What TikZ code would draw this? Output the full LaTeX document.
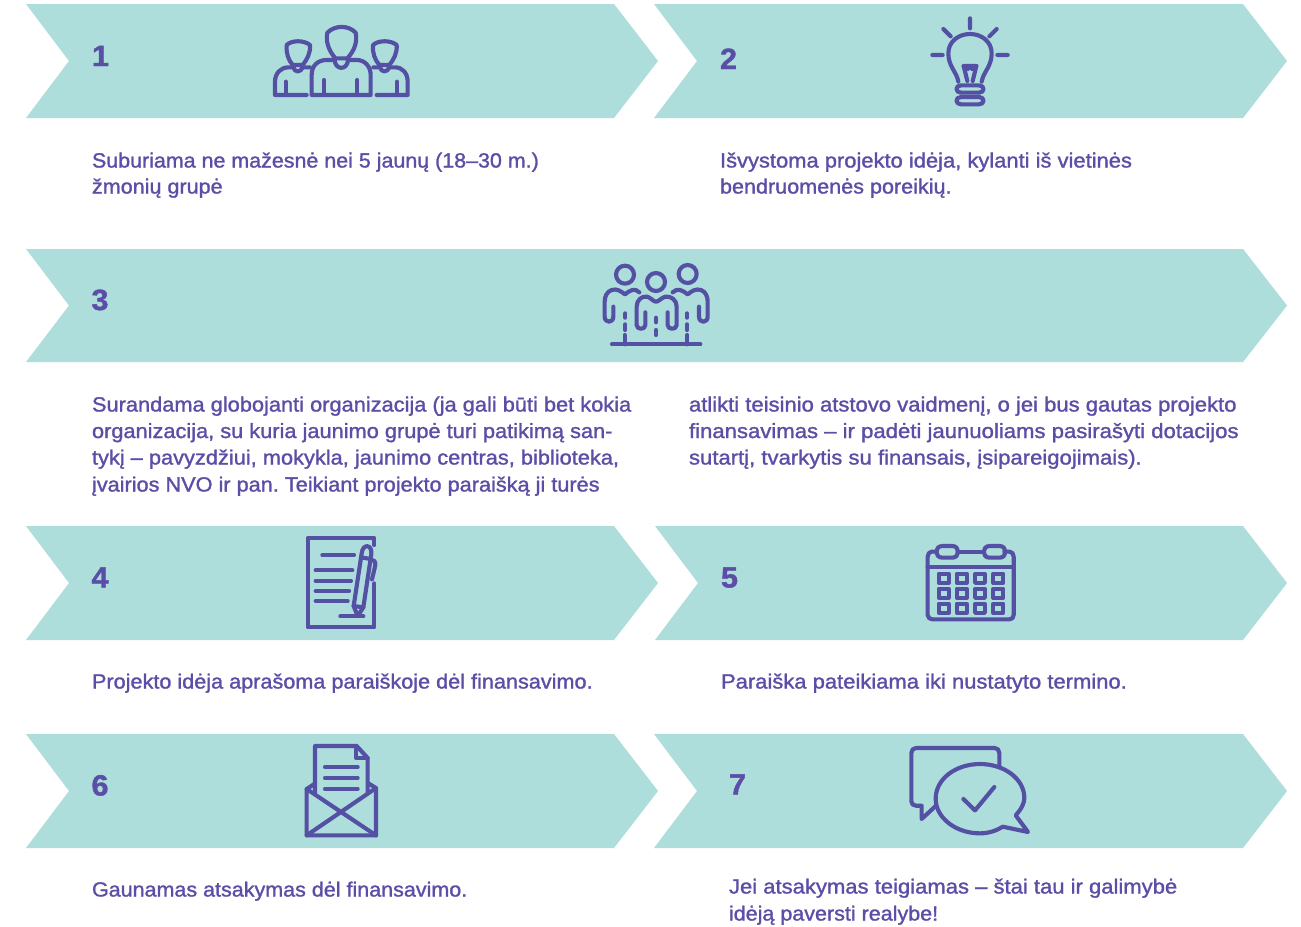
\documentclass[tikz,border=0pt]{standalone}
\usepackage{fontspec}
\setmainfont{Liberation Sans}[FakeBold=1.3,FakeStretch=1.042]
\frenchspacing
\definecolor{teal1}{HTML}{ADDEDB}
\definecolor{purp}{HTML}{5450A4}
\definecolor{txt}{HTML}{5B4EA6}
\newcommand{\sx}[2]{\scalebox{#1}[1]{#2}}
\tikzset{
 x=0.75pt,y=-0.75pt,
 band/.style={fill=teal1,draw=none},
 ln/.style={anchor=base west,inner sep=0,outer sep=0,text=txt,font=\fontsize{15.4pt}{18pt}\selectfont},
 num/.style={anchor=base west,inner sep=0,outer sep=0,text=txt,font=\fontsize{22pt}{24pt}\selectfont\bfseries},
 ic/.style={draw=purp,line width=3.1pt,line cap=round,line join=round},
 ict/.style={draw=purp,line width=2.8pt,line cap=round,line join=round},
}
\begin{document}
\begin{tikzpicture}
\useasboundingbox (0,0) rectangle (1301,926);
\fill[white] (0,0) rectangle (1301,926);
% bands
\fill[band] (26,4)--(614,4)--(658,61)--(614,118)--(26,118)--(69,61)--cycle;
\fill[band] (654,4)--(1243,4)--(1287,61)--(1243,118)--(654,118)--(697,61)--cycle;
\fill[band] (26,249)--(1243,249)--(1287,305.5)--(1243,362)--(26,362)--(69,305.5)--cycle;
\fill[band] (26,526)--(614,526)--(658,583)--(614,640)--(26,640)--(69,583)--cycle;
\fill[band] (655,526)--(1243,526)--(1287,583)--(1243,640)--(655,640)--(698,583)--cycle;
\fill[band] (26,734)--(614,734)--(658,791)--(614,848)--(26,848)--(69,791)--cycle;
\fill[band] (654,734)--(1243,734)--(1287,791)--(1243,848)--(654,848)--(697,791)--cycle;
% numbers
\node[num] (n1) at (92,66) {1};
\node[num] (n2) at (720,69) {2};
\node[num] (n3) at (91.5,310) {3};
\node[num] (n4) at (91.5,587.5) {4};
\node[num] (n5) at (721,587.5) {5};
\node[num] (n6) at (91.5,795.5) {6};
\node[num] (n7) at (729,794.5) {7};
% text
\node[ln] (t1a) at (92,167.5) {\sx{1.002}{Suburiama ne mažesnė nei 5 jaunų (18–30 m.)}};
\node[ln] (t1b) at (92,193.5) {\sx{1.008}{žmonių grupė}};
\node[ln] (t2a) at (720,167.5) {\sx{1.025}{Išvystoma projekto idėja, kylanti iš vietinės}};
\node[ln] (t2b) at (720,193.5) {\sx{1.009}{bendruomenės poreikių.}};
\node[ln] (t3a) at (92,411.5) {\sx{1.019}{Surandama globojanti organizacija (ja gali būti bet kokia}};
\node[ln] (t3b) at (92,438) {\sx{1.018}{organizacija, su kuria jaunimo grupė turi patikimą san-}};
\node[ln] (t3c) at (92,464.5) {\sx{1.019}{tykį – pavyzdžiui, mokykla, jaunimo centras, biblioteka,}};
\node[ln] (t3d) at (92,491.5) {\sx{1.014}{įvairios NVO ir pan. Teikiant projekto paraišką ji turės}};
\node[ln] (t3e) at (689,411.5) {\sx{1.030}{atlikti teisinio atstovo vaidmenį, o jei bus gautas projekto}};
\node[ln] (t3f) at (689,438) {\sx{1.034}{finansavimas – ir padėti jaunuoliams pasirašyti dotacijos}};
\node[ln] (t3g) at (689,464.5) {\sx{1.032}{sutartį, tvarkytis su finansais, įsipareigojimais).}};
\node[ln] (t4) at (92,688.5) {\sx{1.012}{Projekto idėja aprašoma paraiškoje dėl finansavimo.}};
\node[ln] (t5) at (721,688.5) {\sx{1.028}{Paraiška pateikiama iki nustatyto termino.}};
\node[ln] (t6) at (92,896.5) {\sx{1.005}{Gaunamas atsakymas dėl finansavimo.}};
\node[ln] (t7a) at (729,893.5) {\sx{1.030}{Jei atsakymas teigiamas – štai tau ir galimybė}};
\node[ln] (t7b) at (729,920.5) {\sx{1.005}{idėją paversti realybe!}};
% icon 1
\begin{scope}[shift={(260,10)},x=0.25pt,y=-0.25pt]
\draw[ic] (202,68) .. controls (225,45) and (265,45) .. (287,68) .. controls (292,95) and (285,120) .. (262,145) -- (226,145) .. controls (205,120) and (197,95) .. (202,68) -- cycle;
\draw[ic] (224,148) .. controls (224,182) and (264,182) .. (264,148);
\draw[ic] (224,150) -- (200,150) .. controls (175,150) and (155,165) .. (155,195) -- (155,255) -- (332,255) -- (332,195) .. controls (332,170) and (315,150) .. (290,150) -- (264,150);
\draw[ic] (192,210)--(192,255) (292,210)--(292,255);
\draw[ic] (80,105) .. controls (95,90) and (132,90) .. (150,105) .. controls (152,130) and (140,150) .. (128,165) -- (98,165) .. controls (85,150) and (78,130) .. (80,105) -- cycle;
\draw[ic] (100,172) .. controls (103,188) and (123,188) .. (128,172);
\draw[ic] (150,172) -- (128,172) (98,172) -- (85,172) .. controls (62,172) and (45,190) .. (45,215) -- (45,255) -- (140,255);
\draw[ic] (77,215)--(77,255);
\draw[ic] (339,105) .. controls (355,90) and (392,90) .. (410,105) .. controls (412,130) and (400,150) .. (388,165) -- (358,165) .. controls (345,150) and (337,130) .. (339,105) -- cycle;
\draw[ic] (360,172) .. controls (363,188) and (383,188) .. (388,172);
\draw[ic] (340,172) -- (360,172) (388,172) -- (405,172) .. controls (428,172) and (443,190) .. (443,215) -- (443,255) -- (350,255);
\draw[ic] (411,215)--(411,255);
\end{scope}
% icon 2
\begin{scope}[shift={(915,10)},x=0.25pt,y=-0.25pt]
\draw[ic] (165,25)--(165,55) (85,57)--(107,79) (245,57)--(223,79) (52,135)--(83,135) (247,135)--(278,135);
\draw[ic] (130,215) .. controls (125,185) and (100,170) .. (100,130) .. controls (100,95) and (130,72) .. (165,72) .. controls (200,72) and (230,95) .. (230,130) .. controls (230,170) and (205,185) .. (200,215);
\draw[ic] (157,213) -- (146,168) -- (184,168) -- (173,213);
\draw[ic] (146,168) -- (157,178) -- (165,170) -- (173,178) -- (184,168);
\draw[ic] (138,226) -- (192,226) .. controls (210,226) and (210,248) .. (192,248) -- (138,248) .. controls (120,248) and (120,226) .. (138,226) -- cycle;
\draw[ic] (138,261) -- (192,261) .. controls (210,261) and (210,283) .. (192,283) -- (138,283) .. controls (120,283) and (120,261) .. (138,261) -- cycle;
\end{scope}
% icon 3
\begin{scope}[shift={(590,255)},x=0.25pt,y=-0.25pt]
\draw[ic] (105,59) circle[radius=27];
\draw[ic] (198,81) circle[radius=27];
\draw[ic] (293,57) circle[radius=27];
\draw[ic] (148,112) .. controls (135,98) and (120,105) .. (105,118) .. controls (92,108) and (80,100) .. (65,105) .. controls (50,110) and (44,125) .. (44,140) -- (44,185) .. controls (44,205) and (70,205) .. (70,185) -- (70,155);
\draw[ic] (248,112) .. controls (262,98) and (277,105) .. (293,118) .. controls (305,108) and (318,100) .. (333,105) .. controls (347,110) and (353,125) .. (353,140) -- (353,185) .. controls (353,205) and (327,205) .. (327,185) -- (327,155);
\draw[ic] (140,210) -- (140,155) .. controls (140,135) and (155,122) .. (172,125) .. controls (185,130) and (190,140) .. (198,140) .. controls (206,140) and (212,130) .. (225,125) .. controls (243,122) and (260,135) .. (260,155) -- (260,210) .. controls (260,225) and (233,225) .. (233,210) -- (233,172);
\draw[ic] (140,210) .. controls (140,225) and (166,225) .. (166,210) -- (166,172);
\draw[ic] (106,175)--(106,188) (106,208)--(106,225) (198,188)--(198,202) (198,225)--(198,240) (291,175)--(291,188) (291,208)--(291,225);
\draw[ic] (104,240)--(104,268) (292,240)--(292,268) (66,268)--(331,268);
\end{scope}
% icon 4
\begin{scope}[shift={(295,530)},x=0.25pt,y=-0.25pt]
\draw[ic] (204,24) -- (238,24) -- (238,45);
\draw[ic] (204,24) -- (38,24) -- (38,292) -- (238,292) -- (238,160);
\draw[ic] (82,75)--(177,75) (62,121)--(172,121) (62,152)--(168,152) (62,183)--(162,183) (62,213)--(158,213);
\draw[ic] (136,259)--(205,259);
\draw[ic] (176,228) -- (200,70) .. controls (203,40) and (232,42) .. (229,72) -- (205,232) -- (188,258) -- (176,228) -- cycle;
\draw[ic] (198,82)--(228,87);
\draw[ic] (176,228)--(205,232);
\draw[ic] (229,90) .. controls (242,90) and (242,100) .. (240,110) -- (231,148);
\end{scope}
% icon 5
\begin{scope}[shift={(915,535)},x=0.25pt,y=-0.25pt]
\draw[ic] (65,50) -- (50,50) .. controls (43,50) and (38,57) .. (38,65) -- (38,240) .. controls (38,248) and (45,253) .. (52,253) -- (283,253) .. controls (291,253) and (296,248) .. (296,240) -- (296,65) .. controls (296,57) and (291,50) .. (284,50) -- (268,50);
\draw[ic] (128,50)--(207,50);
\draw[ic] (38,95)--(296,95);
\draw[ic] (82,33) -- (112,33) .. controls (135,33) and (135,68) .. (112,68) -- (82,68) .. controls (58,68) and (58,33) .. (82,33) -- cycle;
\draw[ic] (224,33) -- (254,33) .. controls (277,33) and (277,68) .. (254,68) -- (224,68) .. controls (200,68) and (200,33) .. (224,33) -- cycle;
\foreach \xx in {71,125,180,235}{\foreach \yy in {116,161,206}{
 \draw[ict] (\xx,\yy) rectangle ++(30,28);}}
\end{scope}
% icon 6
\begin{scope}[shift={(295,738)},x=0.25pt,y=-0.25pt]
\draw[ic] (60,165) -- (60,24) -- (185,24) -- (218,60) -- (218,165);
\draw[ic] (183,24) -- (183,60) -- (218,60);
\draw[ic] (90,87)--(188,87) (90,120)--(188,120) (90,153)--(188,153);
\draw[ic] (58,138) -- (35,153) -- (35,292) -- (243,292) -- (243,150) -- (220,136);
\draw[ic] (35,153) -- (243,292) (243,150) -- (35,292);
\end{scope}
% icon 7
\begin{scope}[shift={(900,738)},x=0.25pt,y=-0.25pt]
\draw[ic] (298,85) -- (298,45) .. controls (298,36) and (292,30) .. (284,30) -- (48,30) .. controls (40,30) and (34,36) .. (34,45) -- (34,190) .. controls (34,198) and (40,203) .. (48,203) -- (65,203) -- (65,243) -- (108,203);
\draw[ic] (347,232) .. controls (365,212) and (373,195) .. (373,180) .. controls (373,122) and (312,78) .. (240,78) .. controls (168,78) and (107,122) .. (107,182) .. controls (107,240) and (168,286) .. (240,286) .. controls (265,286) and (290,278) .. (308,266) -- (384,282) -- cycle;
\draw[ic] (190,183) -- (225,217) -- (283,147);
\end{scope}
\end{tikzpicture}
\end{document}
